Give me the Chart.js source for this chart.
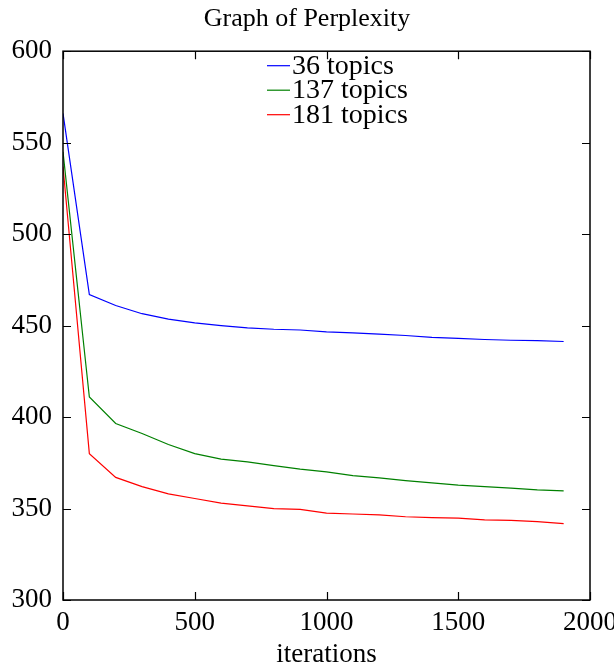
<!DOCTYPE html>
<html>
<head>
<meta charset="utf-8">
<script src="https://cdn.jsdelivr.net/npm/chart.js@4"></script>
<style>
  html, body { margin: 0; padding: 0; background: #fff; }
  #wrap { width: 614px; height: 664px; }
</style>
</head>
<body>
<div id="wrap"><canvas id="chart" width="614" height="664"></canvas></div>
<script>
// data
const iterations = [0, 100, 200, 300, 400, 500, 600, 700, 800, 900, 1000, 1100, 1200, 1300, 1400, 1500, 1600, 1700, 1800, 1900];
const perp36  = [566, 467, 461, 456.5, 453.5, 451.5, 450, 448.8, 448, 447.6, 446.6, 446, 445.3, 444.6, 443.6, 443, 442.4, 442, 441.8, 441.3];
const perp137 = [545, 411, 396.5, 391, 385, 380, 377, 375.5, 373.5, 371.5, 370, 368, 366.8, 365.3, 364, 362.8, 362, 361.2, 360.2, 359.6];
const perp181 = [537, 380, 367, 362, 358, 355.5, 353, 351.5, 350, 349.5, 347.5, 347, 346.5, 345.5, 345, 344.8, 343.8, 343.5, 342.8, 341.8];
const seriesLabels = ['36 topics', '137 topics', '181 topics'];
const seriesColors = ['#0000ff', '#008000', '#ff0000'];
const xTicks = [0, 500, 1000, 1500, 2000];
const yTicks = [300, 350, 400, 450, 500, 550, 600];

const FONT = "'Liberation Serif', 'DejaVu Serif', serif";

function pts(vals) {
    return vals.map((v, i) => ({ x: iterations[i], y: v }));
}

// gnuplot style box with inward ticks on all four sides
const framePlugin = {
    id: 'frame',
    afterDatasetsDraw(chart) {
        const { ctx, chartArea: a, scales } = chart;
        ctx.save();
        ctx.strokeStyle = '#000';
        ctx.lineWidth = 1.5;
        ctx.strokeRect(a.left, a.top, a.right - a.left, a.bottom - a.top);
        ctx.lineWidth = 1.2;
        const len = 8;
        ctx.beginPath();
        yTicks.forEach(v => {
            const y = Math.round(scales.y.getPixelForValue(v)) + 0.5;
            ctx.moveTo(a.left, y); ctx.lineTo(a.left + len, y);
            ctx.moveTo(a.right, y); ctx.lineTo(a.right - len, y);
        });
        xTicks.forEach(v => {
            const x = Math.round(scales.x.getPixelForValue(v)) + 0.5;
            ctx.moveTo(x, a.bottom); ctx.lineTo(x, a.bottom - len);
            ctx.moveTo(x, a.top); ctx.lineTo(x, a.top + len);
        });
        ctx.stroke();
        ctx.restore();
    }
};

// key stacked inside the plot, near the top
const keyPlugin = {
    id: 'key',
    afterDatasetsDraw(chart) {
        const { ctx, chartArea: a } = chart;
        ctx.save();
        ctx.font = "28px " + FONT;
        ctx.textBaseline = 'middle';
        ctx.textAlign = 'left';
        chart.data.datasets.forEach((ds, i) => {
            const y = a.top + 14 + i * 24.5;
            const x0 = a.left + 204;
            ctx.strokeStyle = ds.borderColor;
            ctx.lineWidth = 1.2;
            ctx.beginPath();
            ctx.moveTo(x0, y + 0.5); ctx.lineTo(x0 + 23, y + 0.5);
            ctx.stroke();
            ctx.fillStyle = '#000';
            ctx.fillText(ds.label, x0 + 25, y + 1);
        });
        ctx.restore();
    }
};

new Chart(document.getElementById('chart'), {
    type: 'line',
    data: {
        datasets: [
            { label: seriesLabels[0], data: pts(perp36),  borderColor: seriesColors[0] },
            { label: seriesLabels[1], data: pts(perp137), borderColor: seriesColors[1] },
            { label: seriesLabels[2], data: pts(perp181), borderColor: seriesColors[2] }
        ]
    },
    options: {
        responsive: false,
        animation: false,
        layout: { padding: { top: 4, right: 0, left: 0, bottom: 0 } },
        elements: {
            line: { borderWidth: 1.2, tension: 0 },
            point: { radius: 0 }
        },
        plugins: {
            legend: { display: false },
            tooltip: { enabled: false },
            title: {
                display: true,
                text: 'Graph of Perplexity',
                color: '#000',
                font: { family: FONT, size: 26, weight: 'normal' },
                padding: { top: 0, bottom: 16 }
            }
        },
        scales: {
            x: {
                type: 'linear',
                min: 0, max: 2000,
                afterBuildTicks(s) { s.ticks = xTicks.map(v => ({ value: v })); },
                afterFit(s) { s.height = 64; s.paddingRight = 24; },
                grid: { display: false },
                border: { display: false },
                ticks: {
                    color: '#000', font: { family: FONT, size: 27 }, padding: -1, maxRotation: 0,
                    callback: v => String(v)
                },
                title: {
                    display: true, text: 'iterations', color: '#000',
                    font: { family: FONT, size: 27 }, padding: { top: 0, bottom: -7 }
                }
            },
            y: {
                min: 300, max: 600,
                afterBuildTicks(s) { s.ticks = yTicks.map(v => ({ value: v })); },
                afterFit(s) { s.width = 63; },
                grid: { display: false },
                border: { display: false },
                ticks: { color: '#000', font: { family: FONT, size: 27 }, padding: 3, callback: v => String(v) }
            }
        }
    },
    plugins: [framePlugin, keyPlugin]
});
</script>
</body>
</html>
